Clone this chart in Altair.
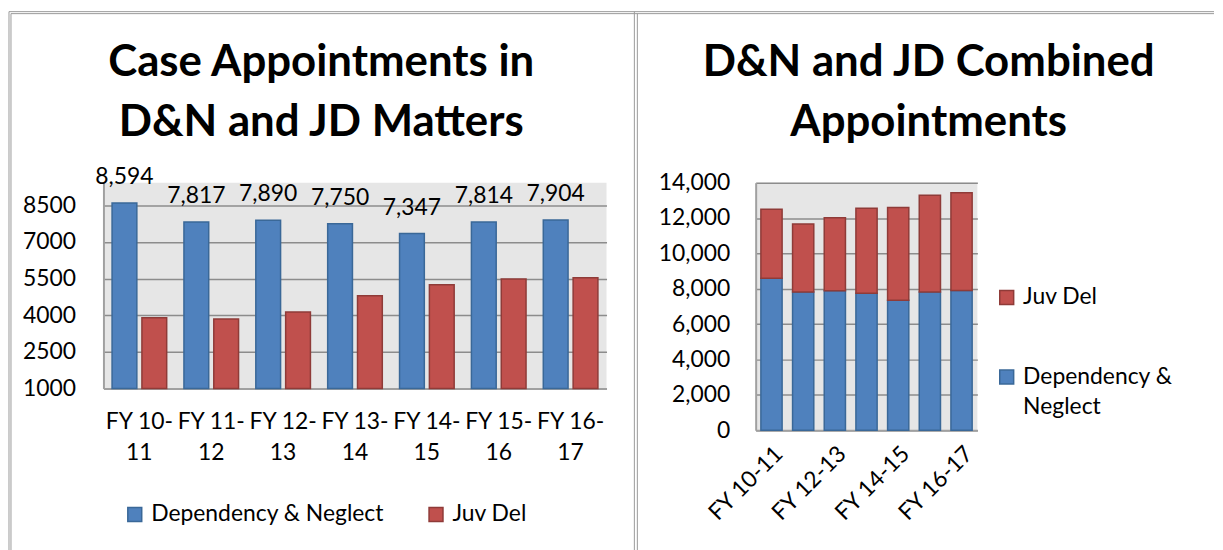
import altair as alt
import pandas as pd

# ---- data ----
years = ["FY 10-11", "FY 11-12", "FY 12-13", "FY 13-14", "FY 14-15", "FY 15-16", "FY 16-17"]
dep_neglect = [8594, 7817, 7890, 7750, 7347, 7814, 7904]
juv_del = [3900, 3850, 4130, 4800, 5250, 5480, 5530]
series = ["Dependency & Neglect", "Juv Del"]
left_ticks = [1000, 2500, 4000, 5500, 7000, 8500]
right_ticks = [0, 2000, 4000, 6000, 8000, 10000, 12000, 14000]
right_label_years = ["FY 10-11", "FY 12-13", "FY 14-15", "FY 16-17"]
left_title = ["Case Appointments in", "D&N and JD Matters"]
right_title = ["D&N and JD Combined", "Appointments"]

fills = ["#4F81BD", "#C0504D"]
strokes = ["#3A6898", "#8F3B38"]
FONT = "Lato"

rows = []
for i, yr in enumerate(years):
    rows.append({"year": yr, "series": series[0], "value": dep_neglect[i], "ord": 0})
    rows.append({"year": yr, "series": series[1], "value": juv_del[i], "ord": 1})
df = pd.DataFrame(rows)
one = pd.DataFrame({"k": [0]})

GRID = "#8c8c8c"
DOMAIN = "#a0a0a0"
TITLE_SIZE = 44

# ---------------- left chart ----------------
x_l = alt.X(
    "year:N", sort=years, title=None,
    scale=alt.Scale(paddingInner=0.24, paddingOuter=0.12),
    axis=alt.Axis(
        labelExpr="[substring(datum.label, 0, 6), substring(datum.label, 6)]",
        labelAngle=0, labelPadding=22, labelLineHeight=31, labelFontSize=23,
        labelFont=FONT, labelColor="black", ticks=False,
        domainColor=DOMAIN, domainWidth=2,
    ),
)
y_l = alt.Y(
    "value:Q", title=None,
    scale=alt.Scale(domain=[1000, 9430], clamp=True, zero=False, nice=False),
    axis=alt.Axis(
        values=left_ticks, format="d", grid=True, gridColor=GRID, gridWidth=1.5,
        ticks=False, labelPadding=28, labelFontSize=23, labelFont=FONT,
        labelColor="black", domainColor=DOMAIN, domainWidth=2,
    ),
)
xo_l = alt.XOffset("series:N", sort=series,
                   scale=alt.Scale(domain=series, paddingInner=0.17))

leg_l = dict(
    title=None, orient="none", legendX=20, legendY=322, direction="horizontal",
    symbolType="square", symbolSize=196, symbolStrokeWidth=1.5,
    labelFontSize=23, labelFont=FONT, labelColor="black", columnPadding=40,
    labelOffset=5, labelLimit=400,
)
color_l = alt.Color("series:N", scale=alt.Scale(domain=series, range=fills),
                    legend=alt.Legend(**leg_l))
stroke_l = alt.Stroke("series:N", scale=alt.Scale(domain=series, range=strokes),
                      legend=alt.Legend(**leg_l))

bars_l = alt.Chart(df).mark_bar(strokeWidth=1.5).encode(
    x=x_l, y=y_l, xOffset=xo_l, color=color_l, stroke=stroke_l
)
labels_l = alt.Chart(df).transform_filter(
    alt.datum.series == series[0]
).mark_text(dy=-19, baseline="alphabetic", fontSize=23, font=FONT, color="black").encode(
    x=x_l, y=y_l, xOffset=xo_l, text=alt.Text("value:Q", format=",")
)

BC = "#9a9a9a"
def hrule(y, x1, x2):
    return alt.Chart(one).mark_rule(color=BC, strokeWidth=1).encode(
        x=alt.value(x1), x2=alt.value(x2), y=alt.value(y))
def vrule(x, y1, y2):
    return alt.Chart(one).mark_rule(color=BC, strokeWidth=1).encode(
        x=alt.value(x), y=alt.value(y1), y2=alt.value(y2))

borders = [
    hrule(-172, -95, 1117), hrule(-170, -93, 1117),
    vrule(-95, -172, 400), vrule(-93, -170, 400),
    vrule(534, -172, 400), vrule(537, -170, 400),
]

def title_mark(lines, x):
    return alt.Chart(one).mark_text(
        font=FONT, fontSize=TITLE_SIZE, fontWeight="bold", lineHeight=60,
        baseline="alphabetic", align="center", color="black",
    ).encode(x=alt.value(x), y=alt.value(-107), text=alt.value(lines))

left = alt.layer(bars_l, labels_l, title_mark(left_title, 219), *borders).properties(
    width=506, height=207,
)

# ---------------- right chart ----------------
r_domain = ["Juv Del", "Dependency & Neglect"]
x_r = alt.X(
    "year:N", sort=years, title=None,
    scale=alt.Scale(paddingInner=0.33, paddingOuter=0.165),
    axis=alt.Axis(
        values=right_label_years, labelAngle=-45, labelFontSize=23, labelFont=FONT,
        labelColor="black", labelPadding=12, ticks=False,
        domainColor=DOMAIN, domainWidth=2,
    ),
)
y_r = alt.Y(
    "value:Q", title=None, stack="zero",
    scale=alt.Scale(domain=[0, 14000], nice=False),
    axis=alt.Axis(
        values=right_ticks, format=",d", grid=True, gridColor=GRID, gridWidth=1.5,
        ticks=False, labelPadding=26, labelFontSize=23, labelFont=FONT,
        labelColor="black", domainColor=DOMAIN, domainWidth=2,
    ),
)
leg_r = dict(
    title=None, orient="none", legendX=241, legendY=104, direction="vertical",
    symbolType="square", symbolSize=196, symbolStrokeWidth=1.5,
    labelFontSize=23, labelFont=FONT, labelColor="black", labelLimit=400,
    labelOffset=5, rowPadding=56,
    labelExpr="datum.label == 'Dependency & Neglect' ? ['Dependency &', 'Neglect'] : datum.label",
)
color_r = alt.Color("series:N", scale=alt.Scale(domain=r_domain, range=[fills[1], fills[0]]),
                    legend=alt.Legend(**leg_r))
stroke_r = alt.Stroke("series:N", scale=alt.Scale(domain=r_domain, range=[strokes[1], strokes[0]]),
                      legend=alt.Legend(**leg_r))

bars_r = alt.Chart(df).mark_bar(strokeWidth=1.5).encode(
    x=x_r, y=y_r, color=color_r, stroke=stroke_r,
    order=alt.Order("ord:Q", sort="ascending"),
)

right = alt.layer(bars_r, title_mark(right_title, 174)).properties(
    width=223, height=249,
)

chart = alt.hconcat(left, right, spacing=150, bounds="flush").resolve_scale(
    color="independent", stroke="independent", x="independent", y="independent"
).properties(
    padding={"left": 0, "top": 1, "right": 0, "bottom": 0},
    background="white",
).configure(
    style={"guide-label": {"lineHeight": 30}}
).configure_view(
    fill="#e6e6e6", stroke=None
)

chart.save("out.html", embed_options={"renderer": "svg", "actions": False})
